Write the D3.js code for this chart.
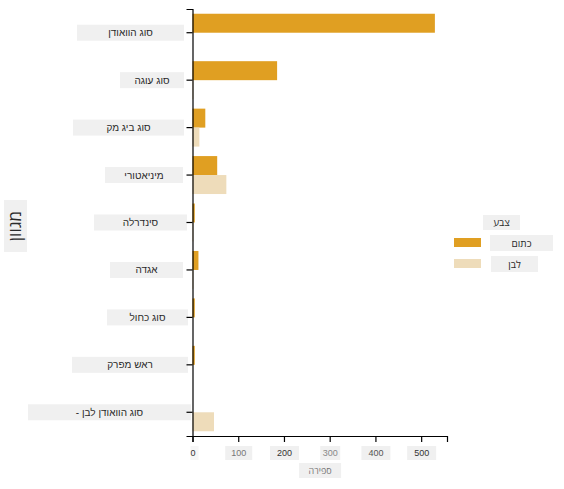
<!DOCTYPE html>
<html>
<head>
<meta charset="utf-8">
<script src="https://cdn.jsdelivr.net/npm/d3@7"></script>
<style>
  html, body { margin: 0; padding: 0; background: #fff; }
  svg { display: block; font-family: "Open Sans", "DejaVu Sans", sans-serif; }
</style>
</head>
<body>
<svg id="chart" width="564" height="489"></svg>
<script>
// ---- data ----
const categories = ["סוג הוואודן", "סוג עוגה", "סוג ביג מק", "מיניאטורי", "סינדרלה", "אגדה", "סוג כחול", "ראש מפרק", "סוג הוואודן לבן -"];
const seriesNames = ["כתום", "לבן"];
const orangeValues = [530, 185, 28, 54, 5, 13, 5, 5, 0];
const whiteValues  = [0, 2, 15, 74, 2, 2, 0, 0, 47];
const xTicks = [0, 100, 200, 300, 400, 500];
const xTitle = "ספירה";
const yTitle = "מגוון";
const legendTitle = "צבע";

// ---- layout / style ----
const W = 564, H = 489;
const margin = { top: 9, right: 117, bottom: 53, left: 192.5 };
const colors = ["#E09F22", "#EEDCBA"];
const boxFill = "#F0F0F0";
const labelBoxW = [107, 64, 111, 78, 93, 73, 81, 116, 163];
const labelBoxRight = [184, 184, 184, 183, 187, 183, 188, 188, 191];

const svg = d3.select("#chart");
const iw = W - margin.left - margin.right;
const ih = H - margin.top - margin.bottom;
const g = svg.append("g").attr("transform", `translate(${margin.left},${margin.top})`);

const maxV = d3.max([...orangeValues, ...whiteValues]);
const x = d3.scaleLinear().domain([0, maxV * 1.05]).range([0, iw]);
const y = d3.scaleBand().domain(categories).range([0, ih]).paddingInner(0.2).paddingOuter(0.1);
const ySub = d3.scaleBand().domain(seriesNames).range([0, y.bandwidth()]);

const rows = categories.map((c, i) => ({ cat: c, vals: [orangeValues[i], whiteValues[i]] }));

// bars
const grp = g.selectAll(".grp").data(rows).join("g")
  .attr("transform", d => `translate(0,${y(d.cat)})`);
grp.selectAll("rect").data(d => d.vals.map((v, k) => ({ v, k })))
  .join("rect")
  .attr("x", 0)
  .attr("y", d => ySub(seriesNames[d.k]))
  .attr("width", d => x(d.v))
  .attr("height", ySub.bandwidth())
  .attr("fill", d => colors[d.k]);

// y axis
const yAxis = g.append("g").call(d3.axisLeft(y).tickSizeOuter(0).tickSize(6));
yAxis.select(".domain").attr("stroke", "#000").attr("stroke-width", 1.2);
yAxis.selectAll(".tick line").attr("stroke", "#000").attr("stroke-width", 1.2);
yAxis.selectAll(".tick text").remove();
yAxis.selectAll(".tick").each(function(d, i) {
  const t = d3.select(this);
  const right = labelBoxRight[i] - margin.left;
  t.insert("rect", ":first-child")
    .attr("x", right - labelBoxW[i]).attr("y", -8)
    .attr("width", labelBoxW[i]).attr("height", 16)
    .attr("fill", boxFill);
  t.append("text")
    .attr("x", right - labelBoxW[i] / 2).attr("y", 0)
    .attr("dy", "0.35em")
    .attr("text-anchor", "middle")
    .attr("direction", "rtl")
    .attr("fill", "#2a2a2a")
    .style("font-size", "10px")
    .text(d);
});

// x axis
const xAxis = g.append("g").attr("transform", `translate(0,${ih})`)
  .call(d3.axisBottom(x).tickValues(xTicks).tickSizeOuter(0).tickSize(6));
xAxis.select(".domain").attr("stroke", "#000").attr("stroke-width", 1.2);
xAxis.selectAll(".tick line").attr("stroke", "#000").attr("stroke-width", 1.2);
xAxis.selectAll(".tick text").remove();
const tickBoxW = [8, 27, 29, 20, 29, 29];
const tickCol = ["#333", "#777", "#333", "#888", "#555", "#333"];
xAxis.selectAll(".tick").each(function(d, i) {
  const t = d3.select(this);
  t.append("rect")
    .attr("x", -tickBoxW[i] / 2 + (i === 0 ? 1.5 : 0)).attr("y", 10)
    .attr("width", tickBoxW[i]).attr("height", 14)
    .attr("fill", i === 0 ? "#F6F6F6" : boxFill);
  t.append("text")
    .attr("x", 0).attr("y", 17).attr("dy", "0.35em")
    .attr("text-anchor", "middle")
    .attr("fill", tickCol[i])
    .style("font-size", "9px")
    .text(d);
});

// x title
const xt = svg.append("g").attr("transform", `translate(${margin.left + x(279)},471)`);
xt.append("rect").attr("x", -21).attr("y", -8).attr("width", 42).attr("height", 15).attr("fill", boxFill);
xt.append("text").attr("text-anchor", "middle").attr("dy", "0.3em").attr("direction", "rtl")
  .attr("fill", "#777").style("font-size", "9px").text(xTitle);

// y title
const yt = svg.append("g").attr("transform", `translate(15.5,226) rotate(-90)`);
yt.append("rect").attr("x", -26).attr("y", -11.5).attr("width", 52).attr("height", 23).attr("fill", boxFill);
yt.append("text").attr("text-anchor", "middle").attr("dy", "0.35em").attr("direction", "rtl")
  .attr("fill", "#2a2a2a").style("font-size", "17px").text(yTitle);

// legend
const lg = svg.append("g").attr("transform", "translate(454,215)");
lg.append("rect").attr("x", 29).attr("y", 0).attr("width", 37).attr("height", 15).attr("fill", boxFill);
lg.append("text").attr("x", 47.5).attr("y", 7.5).attr("dy", "0.35em").attr("text-anchor", "middle")
  .attr("direction", "rtl").attr("fill", "#2a2a2a").style("font-size", "10px").text(legendTitle);
const legBoxW = [63, 47];
const li = lg.selectAll(".li").data(seriesNames).join("g")
  .attr("transform", (d, i) => `translate(0,${23 + i * 21})`);
li.append("rect").attr("x", 0).attr("y", 0).attr("width", 27).attr("height", 9)
  .attr("fill", (d, i) => colors[i]);
li.append("rect").attr("x", (d, i) => 36 + i).attr("y", -3).attr("width", (d, i) => legBoxW[i]).attr("height", 16)
  .attr("fill", boxFill);
li.append("text").attr("x", (d, i) => 36 + i + legBoxW[i] / 2).attr("y", 5).attr("dy", "0.35em")
  .attr("text-anchor", "middle").attr("direction", "rtl")
  .attr("fill", "#2a2a2a").style("font-size", "10px").text(d => d);
</script>
</body>
</html>
